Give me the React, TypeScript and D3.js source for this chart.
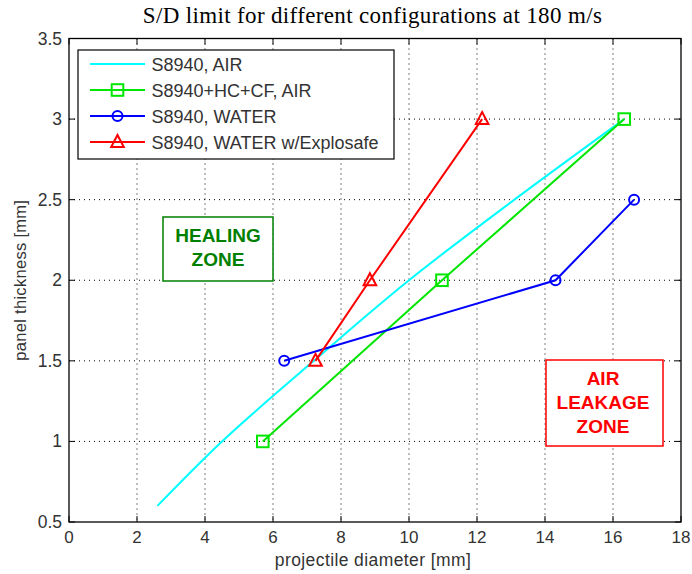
import React from "react";
import * as d3 from "d3";

const xTicks = [0, 2, 4, 6, 8, 10, 12, 14, 16, 18];
const yTicks = [0.5, 1, 1.5, 2, 2.5, 3, 3.5];

const airX = [2.6, 4.5, 7.2, 10.0, 13.1, 16.33];
const airY = [0.6, 1.0, 1.5, 2.0, 2.5, 3.0];
const hcX = [5.7, 10.97, 16.33];
const hcY = [1.0, 2.0, 3.0];
const waterX = [6.33, 14.31, 16.62];
const waterY = [1.5, 2.0, 2.5];
const expX = [7.25, 8.85, 12.15];
const expY = [1.5, 2.0, 3.0];

const seriesNames = ["S8940, AIR", "S8940+HC+CF, AIR", "S8940, WATER", "S8940, WATER w/Explosafe"];
const seriesColors = ["#00ffff", "#00e600", "#0000ff", "#ff0000"];
const seriesMarkers = ["none", "square", "circle", "triangle"];

const W = 692, H = 574;
const L = 69, R = 681, T = 38.5, B = 522;

function Marker({ type, x, y, color }: { type: string; x: number; y: number; color: string }) {
  if (type === "square") return <rect x={x - 5.8} y={y - 5.8} width={11.6} height={11.6} fill="none" stroke={color} strokeWidth={2} />;
  if (type === "circle") return <circle cx={x} cy={y} r={5} fill="none" stroke={color} strokeWidth={2} />;
  if (type === "triangle") {
    const p = `${x},${y - 7} ${x + 6.3},${y + 5} ${x - 6.3},${y + 5}`;
    return <polygon points={p} fill="none" stroke={color} strokeWidth={2} />;
  }
  return null;
}

export default function App() {
  const xs = d3.scaleLinear().domain([0, 18]).range([L, R]);
  const ys = d3.scaleLinear().domain([0.5, 3.5]).range([B, T]);
  const straight = d3.line<[number, number]>().x(d => xs(d[0])).y(d => ys(d[1]));
  const curve = d3.line<[number, number]>().x(d => xs(d[0])).y(d => ys(d[1])).curve(d3.curveCatmullRom.alpha(0.5));
  const data: [number, number][][] = [
    airX.map((v, i) => [v, airY[i]]),
    hcX.map((v, i) => [v, hcY[i]]),
    waterX.map((v, i) => [v, waterY[i]]),
    expX.map((v, i) => [v, expY[i]]),
  ];
  const sans = "'Liberation Sans', Arial, sans-serif";
  const serif = "'Liberation Serif', 'Times New Roman', serif";
  return (
    <svg width={W} height={H} style={{ position: "absolute", left: 0, top: 0, background: "#fff" }}>
      <rect x={0} y={0} width={W} height={H} fill="#fff" />
      {/* grid */}
      {xTicks.slice(1, -1).map(t => (
        <line key={"gx" + t} x1={xs(t)} x2={xs(t)} y1={T} y2={B} stroke="#000" strokeWidth={1} strokeDasharray="1,4" />
      ))}
      {yTicks.slice(1, -1).map(t => (
        <line key={"gy" + t} x1={L} x2={R} y1={ys(t)} y2={ys(t)} stroke="#000" strokeWidth={1} strokeDasharray="1,4" />
      ))}
      {/* ticks */}
      {xTicks.map(t => (
        <g key={"tx" + t}>
          <line x1={xs(t)} x2={xs(t)} y1={B} y2={B - 6} stroke="#000" />
          <line x1={xs(t)} x2={xs(t)} y1={T} y2={T + 6} stroke="#000" />
          <text x={xs(t)} y={B + 21} textAnchor="middle" fontFamily={sans} fontSize={17} fill="#333">{t}</text>
        </g>
      ))}
      {yTicks.map(t => (
        <g key={"ty" + t}>
          <line x1={L} x2={L + 6} y1={ys(t)} y2={ys(t)} stroke="#000" />
          <line x1={R} x2={R - 6} y1={ys(t)} y2={ys(t)} stroke="#000" />
          <text x={L - 7} y={ys(t) + 6} textAnchor="end" fontFamily={sans} fontSize={17.5} fill="#333">{t}</text>
        </g>
      ))}
      <rect x={L} y={T} width={R - L} height={B - T} fill="none" stroke="#000" strokeWidth={1.3} />
      {/* zones */}
      <rect x={163} y={217} width={110} height={64} fill="#fff" stroke="#008000" strokeWidth={1.5} />
      <text x={218} y={242} textAnchor="middle" fontFamily={sans} fontWeight="bold" fontSize={19} fill="#008000">HEALING</text>
      <text x={218} y={266} textAnchor="middle" fontFamily={sans} fontWeight="bold" fontSize={19} fill="#008000">ZONE</text>
      <rect x={546} y={360} width={117} height={86} fill="#fff" stroke="#ff0000" strokeWidth={1.5} />
      <text x={603} y={385} textAnchor="middle" fontFamily={sans} fontWeight="bold" fontSize={19} fill="#ff0000">AIR</text>
      <text x={603} y={409} textAnchor="middle" fontFamily={sans} fontWeight="bold" fontSize={19} fill="#ff0000">LEAKAGE</text>
      <text x={603} y={433} textAnchor="middle" fontFamily={sans} fontWeight="bold" fontSize={19} fill="#ff0000">ZONE</text>
      {/* series */}
      {data.map((d, i) => (
        <g key={"s" + i}>
          <path d={(i === 0 ? curve(d) : straight(d)) || ""} fill="none" stroke={seriesColors[i]} strokeWidth={2} />
          {d.map((p, j) => (
            <Marker key={j} type={seriesMarkers[i]} x={xs(p[0])} y={ys(p[1])} color={seriesColors[i]} />
          ))}
        </g>
      ))}
      {/* legend */}
      <rect x={78} y={50} width={316} height={109} fill="#fff" stroke="#000" strokeWidth={1.2} />
      {seriesNames.map((n, i) => {
        const y = 64 + i * 26;
        return (
          <g key={"l" + i}>
            <line x1={90} x2={145} y1={y} y2={y} stroke={seriesColors[i]} strokeWidth={2} />
            <Marker type={seriesMarkers[i]} x={117.5} y={y} color={seriesColors[i]} />
            <text x={151.5} y={y + 6.5} fontFamily={sans} fontSize={18} fill="#333">{n}</text>
          </g>
        );
      })}
      {/* titles */}
      <text x={372.5} y={23} textAnchor="middle" fontFamily={serif} fontSize={23} letterSpacing={0.35} fill="#000">S/D limit for different configurations at 180 m/s</text>
      <text x={373} y={566} textAnchor="middle" fontFamily={sans} fontSize={17.5} letterSpacing={0.4} fill="#333">projectile diameter [mm]</text>
      <text transform={`translate(26,${(T + B) / 2}) rotate(-90)`} textAnchor="middle" fontFamily={sans} fontSize={16.5} letterSpacing={0.3} fill="#333">panel thickness [mm]</text>
    </svg>
  );
}
